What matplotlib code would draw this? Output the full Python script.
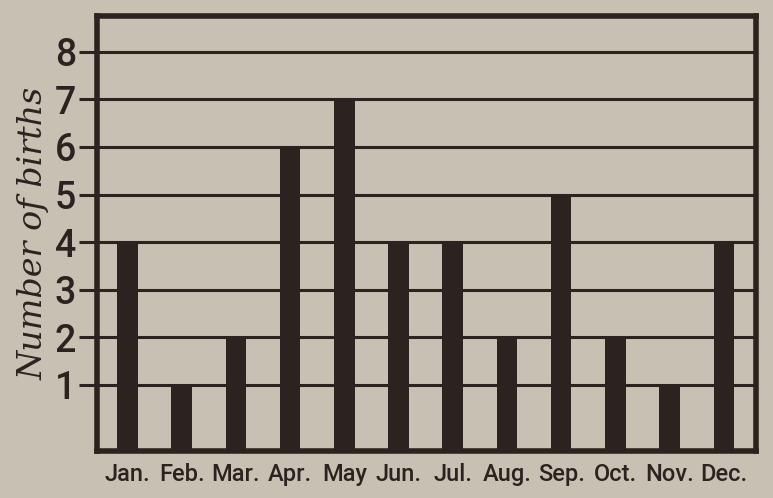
import matplotlib
matplotlib.use("Agg")
import matplotlib.pyplot as plt

months = ["Jan.", "Feb.", "Mar.", "Apr.", "May", "Jun.", "Jul.", "Aug.", "Sep.", "Oct.", "Nov.", "Dec."]
births = [4, 1, 2, 6, 7, 4, 4, 2, 5, 2, 1, 4]
yticks = [1, 2, 3, 4, 5, 6, 7, 8]

paper = "#c9c0b4"
ink = "#2b2320"

fig = plt.figure(figsize=(7.73, 4.98), dpi=100, facecolor=paper)
ax = fig.add_axes([0.1255, 0.095, 0.853, 0.873], facecolor=paper)

ymin = -0.38
x = list(range(len(months)))
heights = [b - ymin for b in births]
ax.bar(x, heights, bottom=ymin, width=0.38, color=ink, zorder=3)

ax.set_ylim(ymin, 8.75)
ax.set_xlim(-0.56, 11.6)
ax.set_yticks(yticks)
ax.set_yticklabels([str(t) for t in yticks], fontsize=27,
                   fontfamily=["Roboto", "DejaVu Sans"], fontweight="medium", color=ink)
ax.set_xticks(x)
ax.set_xticklabels(months, fontsize=17, fontfamily=["Roboto", "DejaVu Sans"],
                   fontweight="medium", color=ink)
ax.tick_params(axis="y", length=13, width=2.2, color=ink, pad=2)
ax.tick_params(axis="x", length=0, pad=9)
ax.yaxis.grid(True, color=ink, linewidth=2.2, zorder=1)
ax.set_axisbelow(True)
for s in ax.spines.values():
    s.set_linewidth(4)
    s.set_color(ink)

ax.set_ylabel("Number of births", fontsize=24, fontfamily="DejaVu Serif",
              fontstyle="italic", color=ink, labelpad=4)

fig.savefig("out.png", dpi=100, facecolor=paper)
